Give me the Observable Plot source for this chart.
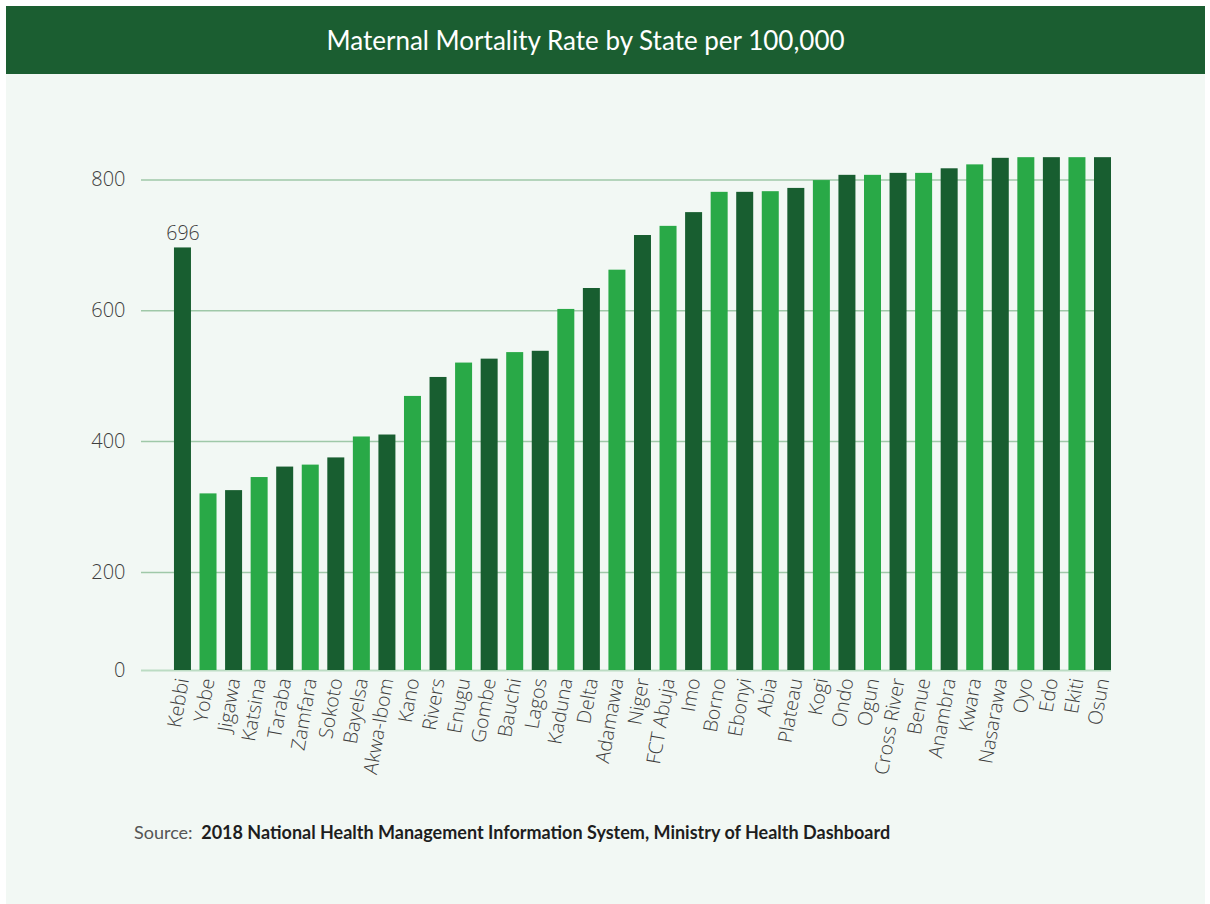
<!DOCTYPE html>
<html>
<head>
<meta charset="utf-8">
<script src="https://cdn.jsdelivr.net/npm/d3@7"></script>
<script src="https://cdn.jsdelivr.net/npm/@observablehq/plot@0.6"></script>
<style>
  html, body { margin: 0; padding: 0; background: #ffffff; }
  #panel { position: absolute; left: 6px; top: 6px; width: 1199px; height: 910px; background: #f2f8f4; }
  #banner { height: 68px; background: #1b5e31; color: #ffffff; font-family: Lato, "Open Sans", sans-serif;
    font-size: 26px; display: flex; align-items: center; justify-content: center; padding-right: 40px; box-sizing: border-box; }
  #chart { position: absolute; left: 0; top: 68px; }
  #source { position: absolute; left: 128px; top: 815px; font-family: Lato, sans-serif; font-size: 18px; color: #555; }
  #source b { color: #1e1e1e; margin-left: 4px; }
</style>
</head>
<body>
<div id="panel">
  <div id="banner">Maternal Mortality Rate by State per 100,000</div>
  <div id="chart"></div>
  <div id="source">Source: <b>2018 National Health Management Information System, Ministry of Health Dashboard</b></div>
</div>
<script>
const states = ["Kebbi","Yobe","Jigawa","Katsina","Taraba","Zamfara","Sokoto","Bayelsa","Akwa-Ibom","Kano",
  "Rivers","Enugu","Gombe","Bauchi","Lagos","Kaduna","Delta","Adamawa","Niger","FCT Abuja","Imo","Borno",
  "Ebonyi","Abia","Plateau","Kogi","Ondo","Ogun","Cross River","Benue","Anambra","Kwara","Nasarawa","Oyo",
  "Edo","Ekiti","Osun"];
const rates = [696,320,325,345,361,364,375,407,410,469,498,520,526,536,538,602,634,662,715,729,750,781,
  781,782,787,799,807,807,810,810,817,823,833,834,834,834,834];
const labelledStates = ["Kebbi"];
const yTickValues = [50,200,400,600,800];
const yTickLabels = ["0","200","400","600","800"];
const gridValues = [200,400,600,800];

const data = states.map((s, i) => ({state: s, rate: rates[i], idx: i}));
const dark = "#185e30", light = "#29a947";

const chart = Plot.plot({
  width: 1199,
  height: 730,
  marginLeft: 135,
  marginRight: 94,
  marginTop: 40,
  marginBottom: 134,
  style: {background: "transparent", fontFamily: "'Open Sans', Lato, sans-serif"},
  x: {domain: states, paddingInner: 0.335, paddingOuter: 0.645, align: 1, round: false, label: null},
  y: {domain: [50, 900], label: null},
  marks: [
    Plot.ruleY(gridValues, {stroke: "#9fc8a8", strokeWidth: 1.5}),
    Plot.ruleY([50], {stroke: "#bcdcc3", strokeWidth: 2}),
    Plot.barY(data, {x: "state", y: "rate", fill: d => d.idx % 2 ? light : dark, clip: true}),
    Plot.text(data.filter(d => labelledStates.includes(d.state)), {x: "state", y: "rate", text: d => String(d.rate),
      dy: -14, fontSize: 19.5, fill: "#3e3e3e", fontWeight: 300}),
    Plot.axisY({ticks: yTickValues, tickFormat: (d, i) => yTickLabels[i], tickSize: 0, tickPadding: 16,
      fontSize: 20, fill: "#3e3e3e", fontWeight: 300, label: null}),
    Plot.axisX({tickSize: 0, tickPadding: 8, tickRotate: -80, fontSize: 19.5, fill: "#3e3e3e", fontWeight: 300, label: null})
  ]
});
document.getElementById("chart").appendChild(chart);
</script>
</body>
</html>
